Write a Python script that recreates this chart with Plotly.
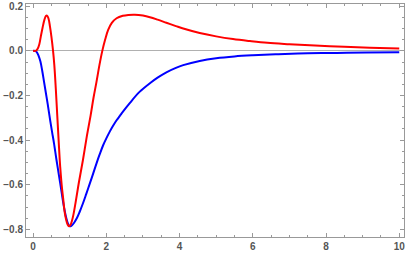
import plotly.graph_objects as go

# Blue curve
blue_x = [0, 0.05, 0.1, 0.15, 0.2, 0.25, 0.3, 0.35, 0.4, 0.46, 0.52, 0.57, 0.64, 0.71,
          0.78, 0.84, 0.9, 0.95, 1.0, 1.05, 1.12, 1.2, 1.27, 1.36, 1.45, 1.55, 1.64, 1.73,
          1.82, 1.91, 2.0, 2.09, 2.18, 2.28, 2.37, 2.46, 2.64, 2.9, 3.19, 3.4, 3.64, 3.9, 4.1,
          4.55, 5.0, 5.5, 6.0, 6.7, 7.5, 8.3, 9.1, 10]
blue_y = [0, 0, -0.006, -0.022, -0.048, -0.09, -0.14, -0.19, -0.24, -0.305, -0.365, -0.413,
          -0.49, -0.562, -0.635, -0.697, -0.745, -0.773, -0.786, -0.783, -0.770, -0.748,
          -0.722, -0.684, -0.642, -0.594, -0.55, -0.505, -0.463, -0.424, -0.392, -0.363,
          -0.337, -0.311, -0.291, -0.271, -0.234, -0.185, -0.145, -0.12, -0.096, -0.076,
          -0.064, -0.045, -0.033, -0.025, -0.02, -0.015, -0.011, -0.009, -0.007, -0.006]

# Red curve
red_x = [0, 0.08, 0.12, 0.17, 0.21, 0.26, 0.31, 0.35, 0.38, 0.42, 0.46, 0.5, 0.545, 0.58,
         0.62, 0.66, 0.70, 0.74, 0.78, 0.82, 0.86, 0.9, 0.94, 0.98, 1.02, 1.06, 1.1, 1.16,
         1.25, 1.36, 1.47, 1.57, 1.65, 1.73, 1.81, 1.89, 1.97, 2.05, 2.15, 2.28, 2.45, 2.6,
         2.78, 3.0, 3.19, 3.4, 3.64, 3.9, 4.1, 4.55, 5.0, 5.46, 5.92, 6.4, 7.0, 7.7, 8.5, 9.2, 10]
red_y = [0, 0.001, 0.008, 0.03, 0.064, 0.105, 0.14, 0.156, 0.158, 0.145, 0.11, 0.064, 0,
         -0.065, -0.17, -0.29, -0.41, -0.52, -0.60, -0.66, -0.72, -0.755, -0.777, -0.786,
         -0.78, -0.762, -0.735, -0.68, -0.59, -0.49, -0.38, -0.29, -0.21, -0.14, -0.065, 0,
         0.052, 0.094, 0.125, 0.146, 0.157, 0.161, 0.162, 0.158, 0.151, 0.14, 0.126, 0.111,
         0.100, 0.080, 0.065, 0.053, 0.044, 0.036, 0.030, 0.024, 0.018, 0.014, 0.011]

x_ticks = [0, 2, 4, 6, 8, 10]
y_ticks = [-0.8, -0.6, -0.4, -0.2, 0.0, 0.2]

fig = go.Figure()
fig.add_trace(go.Scatter(x=blue_x, y=blue_y, mode="lines",
                         line=dict(color="#0000FF", width=2, shape="spline", smoothing=1.0),
                         showlegend=False))
fig.add_trace(go.Scatter(x=red_x, y=red_y, mode="lines",
                         line=dict(color="#FF0000", width=2, shape="spline", smoothing=1.0),
                         showlegend=False))

tickfont = dict(family="Liberation Sans, Arial, sans-serif", size=10, color="#555555", weight="bold")

fig.update_layout(
    width=409, height=256,
    margin=dict(l=26, r=5, t=4, b=19, autoexpand=False),
    plot_bgcolor="white", paper_bgcolor="white",
    xaxis=dict(range=[-0.194, 10.13], tickvals=x_ticks, ticks="inside", ticklen=4,
               tickcolor="#999999", showline=True, linecolor="#999999", linewidth=1,
               mirror="ticks", showgrid=False, zeroline=False, tickfont=tickfont,
               automargin=False, ticklabelstandoff=0,
               minor=dict(ticks="inside", dtick=0.5, ticklen=2, tickcolor="#999999", showgrid=False)),
    yaxis=dict(range=[-0.834, 0.21], tickvals=y_ticks, tickformat=".1f", ticks="inside",
               ticklen=4, tickcolor="#999999", showline=True, linecolor="#999999",
               linewidth=1, mirror="ticks", showgrid=False, zeroline=True,
               zerolinecolor="#b0b0b0", zerolinewidth=1, tickfont=tickfont,
               automargin=False, ticklabelstandoff=0,
               minor=dict(ticks="inside", dtick=0.05, tick0=0, ticklen=2, tickcolor="#999999", showgrid=False)),
)

fig.write_html("out.html", config={"displayModeBar": False},
               post_script="document.body.style.margin='0px';document.body.style.overflow='hidden';")
